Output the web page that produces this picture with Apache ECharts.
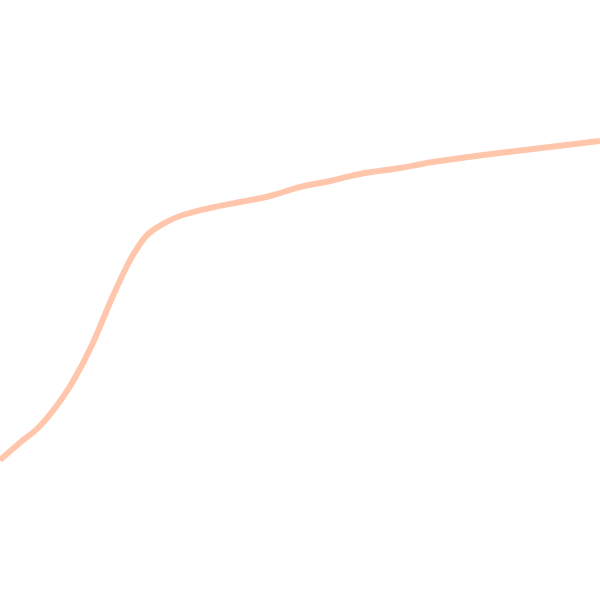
<!DOCTYPE html>
<html><head><meta charset="utf-8">
<script src="https://cdn.jsdelivr.net/npm/echarts@6/dist/echarts.min.js"></script>
<style>html,body{margin:0;padding:0;background:#fff}#c{width:600px;height:600px}</style>
</head><body><div id="c"></div>
<script>
var xValues = [0, 22, 38, 55, 72, 92, 112, 128, 138, 148, 163, 180, 210, 240, 270, 300, 330, 360, 400, 433, 483, 533, 583, 600];
var yValues = [140, 159, 172, 192, 217, 255, 302, 336, 353, 366, 376, 384, 392, 398, 404, 413, 419, 426, 432, 438, 445, 451, 457, 459];
var chart = echarts.init(document.getElementById('c'));
chart.setOption({
  animation: false,
  grid: {left: 0, right: 0, top: 0, bottom: 0},
  xAxis: {type: 'value', min: 0, max: 600, show: false},
  yAxis: {type: 'value', min: 0, max: 600, show: false},
  series: [{
    type: 'line',
    smooth: 0.4,
    showSymbol: false,
    data: xValues.map(function(x, i){ return [x, yValues[i]]; }),
    lineStyle: {color: '#ffc6ab', width: 6}
  }]
});
</script></body></html>
